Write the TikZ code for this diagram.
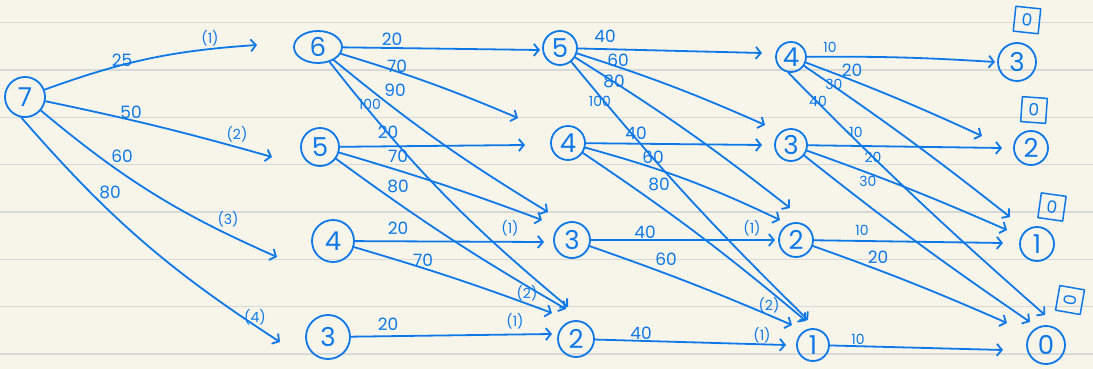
\documentclass[tikz,border=0pt]{standalone}
\usepackage{fontspec}
\setmainfont{Poppins}
\usetikzlibrary{arrows.meta,shapes.geometric}
\definecolor{inkblue}{RGB}{14,120,232}
\definecolor{paper}{RGB}{247,245,234}
\definecolor{rule}{RGB}{216,216,214}
\tikzset{
  ink/.style={draw=inkblue, line width=1.8pt, line cap=round, line join=round},
  st/.style={circle, ink, minimum size=#1, inner sep=0pt, text=inkblue,
    font=\fontsize{26}{26}\selectfont},
  arr/.style={ink, -{Straight Barb[length=5pt,width=12pt,line width=1.8pt]}},
  wl/.style={text=inkblue, inner sep=0pt, font=\fontsize{17}{17}\selectfont},
  sl/.style={text=inkblue, inner sep=0pt, font=\fontsize{14}{14}\selectfont},
  zb/.style={ink, line width=1.5pt, text=inkblue, inner sep=2.5pt, minimum size=25pt,
    font=\fontsize{17}{17}\selectfont},
  ruleline/.style={draw=rule, line width=1.3pt}
}
\begin{document}
\begin{tikzpicture}[x=1pt,y=-1pt]
\useasboundingbox (0,0) rectangle (1093,369);
\fill[paper] (0,0) rectangle (1093,369);
\foreach \yy in {22.7,70,117.3,164.6,212,259.3,306.6,354}
  \draw[ruleline] (0,\yy) -- (1093,\yy);

% nodes
\node[st=40] (n7) at (25,97) {7};
\node[ellipse, ink, minimum width=48pt, minimum height=32pt, inner sep=0pt, text=inkblue,
  font=\fontsize{26}{26}\selectfont] (a6) at (318,47) {6};
\node[st=38] (a5) at (320,147) {5};
\node[st=42] (a4) at (333,241) {4};
\node[st=44] (a3) at (328,337) {3};
\node[st=34] (b5) at (560,48) {5};
\node[st=34] (b4) at (568,143) {4};
\node[st=36] (b3) at (572,240) {3};
\node[st=36] (b2) at (576,339) {2};
\node[st=30] (c4) at (791,57) {4};
\node[st=32] (c3) at (791,145) {3};
\node[st=34] (c2) at (796,240) {2};
\node[st=32] (c1) at (813,345) {1};
\node[st=38] (d3) at (1017,62) {3};
\node[st=34] (d2) at (1031,148) {2};
\node[st=34] (d1) at (1037,244) {1};
\node[st=38] (d0) at (1046,345) {0};

% boxed zeros
\node[zb, rotate=-6] (z3) at (1027,20) {0};
\node[zb, rotate=-4] (z2) at (1034,110) {0};
\node[zb, rotate=-8] (z1) at (1052,207) {0};
\node[zb, rotate=80] (z0) at (1070,300) {0};

% free arrow ends
\coordinate (e1) at (257,45);
\coordinate (e2) at (272,157);
\coordinate (e3) at (277,257);
\coordinate (e4) at (280,342);
\coordinate (f1) at (540,50);
\coordinate (f2) at (518,118);
\coordinate (f3) at (548,212);
\coordinate (f4) at (568,307);
\coordinate (f5) at (525,145);
\coordinate (f6) at (542,220);
\coordinate (f7) at (566,309);
\coordinate (f8) at (544,242);
\coordinate (f9) at (552,313);
\coordinate (f10) at (552,334);
\coordinate (g1) at (762,53);
\coordinate (g2) at (765,125);
\coordinate (g3) at (790,208);
\coordinate (g4) at (808,320);
\coordinate (g5) at (762,145);
\coordinate (g6) at (780,220);
\coordinate (g7) at (806,321);
\coordinate (g8) at (775,240);
\coordinate (g9) at (792,325);
\coordinate (g10) at (786,345);
\coordinate (h1) at (995,62);
\coordinate (h2) at (982,136);
\coordinate (h3) at (1010,217);
\coordinate (h4) at (1045,315);
\coordinate (h5) at (1002,148);
\coordinate (h6) at (1007,230);
\coordinate (h7) at (1030,322);
\coordinate (h8) at (1003,243);
\coordinate (h9) at (1007,323);
\coordinate (h10) at (1003,350);

% stage 0 -> 1
\draw[arr] (n7) to[bend left=8] (e1);
\draw[arr] (n7) to[bend left=2] (e2);
\draw[arr] (n7) to[bend right=8] (e3);
\draw[arr] (n7.-100) to[bend right=8] (e4);
\node[wl] (l1) at (122,60) {25};
\node[sl] (p1) at (210,38) {(1)};
\node[wl] (l2) at (131,112) {50};
\node[sl] (p2) at (237,134) {(2)};
\node[wl] (l3) at (122,156) {60};
\node[sl] (p3) at (228,219) {(3)};
\node[wl] (l4) at (110,192) {80};
\node[sl] (p4) at (255,317) {(4)};

% stage 1 -> 2
\draw[arr] (a6) -- (f1);
\draw[arr] (a6) to[bend left=3] (f2);
\draw[arr] (a6) to[bend right=4] (f3);
\draw[arr] (a6) to[bend right=6] (f4);
\draw[arr] (a5) -- (f5);
\draw[arr] (a5) to[bend left=2] (f6);
\draw[arr] (a5) to[bend right=3] (f7);
\draw[arr] (a4) -- (f8);
\draw[arr] (a4) to[bend left=2] (f9);
\draw[arr] (a3) -- (f10);
\node[wl] (l5) at (392,39) {20};
\node[wl] (l6) at (397,66) {70};
\node[wl] (l7) at (395,90) {90};
\node[sl] (l8) at (370,104) {100};
\node[wl] (l9) at (388,132) {20};
\node[wl] (l10) at (398,156) {70};
\node[wl] (l11) at (398,186) {80};
\node[wl] (l12) at (398,228) {20};
\node[sl] (p5) at (510,228) {(1)};
\node[wl] (l13) at (423,260) {70};
\node[sl] (p6) at (527,293) {(2)};
\node[wl] (l14) at (388,324) {20};
\node[sl] (p7) at (515,321) {(1)};

% stage 2 -> 3
\draw[arr] (b5) -- (g1);
\draw[arr] (b5) to[bend left=3] (g2);
\draw[arr] (b5) to[bend left=3] (g3);
\draw[arr] (b5) to[bend right=3] (g4);
\draw[arr] (b4) -- (g5);
\draw[arr] (b4) to[bend left=5] (g6);
\draw[arr] (b4) to[bend left=3] (g7);
\draw[arr] (b3) -- (g8);
\draw[arr] (b3) to[bend left=2] (g9);
\draw[arr] (b2) -- (g10);
\node[wl] (l15) at (605,36) {40};
\node[wl] (l16) at (618,60) {60};
\node[wl] (l17) at (614,81) {80};
\node[sl] (l18) at (600,101) {100};
\node[wl] (l19) at (636,133) {40};
\node[wl] (l20) at (653,157) {60};
\node[wl] (l21) at (659,184) {80};
\node[wl] (l22) at (645,232) {40};
\node[sl] (p8) at (752,228) {(1)};
\node[wl] (l23) at (666,259) {60};
\node[sl] (p9) at (769,305) {(2)};
\node[wl] (l24) at (641,333) {40};
\node[sl] (p10) at (762,335) {(1)};

% stage 3 -> 4
\draw[arr] (c4) to[bend left=2] (h1);
\draw[arr] (c4) to[bend left=2] (h2);
\draw[arr] (c4) to[bend left=2] (h3);
\draw[arr] (c4.-100) to[bend right=2] (h4);
\draw[arr] (c3) -- (h5);
\draw[arr] (c3) to[bend left=2] (h6);
\draw[arr] (c3) to[bend right=2] (h7);
\draw[arr] (c2) -- (h8);
\draw[arr] (c2) to[bend left=2] (h9);
\draw[arr] (c1) -- (h10);
\node[sl] (l25) at (830,47) {10};
\node[wl] (l26) at (852,70) {20};
\node[sl] (l27) at (834,84) {30};
\node[sl] (l28) at (818,101) {40};
\node[sl] (l29) at (856,132) {10};
\node[sl] (l30) at (873,157) {20};
\node[sl] (l31) at (868,181) {30};
\node[sl] (l32) at (862,230) {10};
\node[wl] (l33) at (878,257) {20};
\node[sl] (l34) at (858,339) {10};
\end{tikzpicture}
\end{document}
